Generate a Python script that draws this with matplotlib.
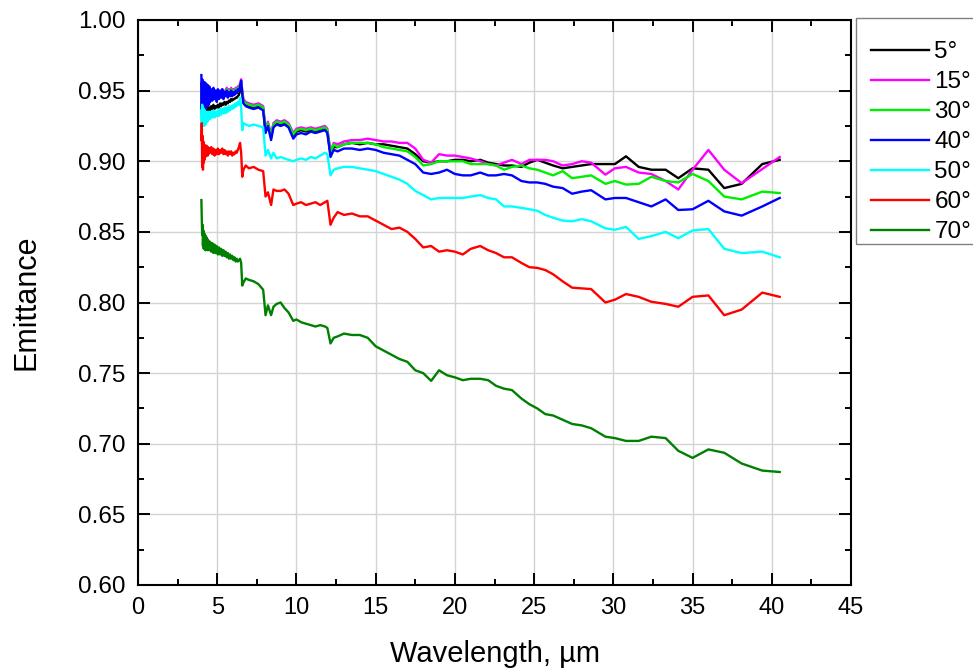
import matplotlib
matplotlib.use("Agg")
import matplotlib.pyplot as plt
from matplotlib.ticker import MultipleLocator
from matplotlib.patches import Rectangle

plt.rcParams['font.family'] = ['Liberation Sans', 'DejaVu Sans']

# ---------------- data ----------------
wavelength = [
    4.000, 4.025, 4.050, 4.075, 4.100, 4.125, 4.150, 4.175, 4.200, 4.225, 4.250, 4.275, 4.300, 4.325,
    4.350, 4.375, 4.400, 4.425, 4.450, 4.475, 4.500,
    4.55, 4.62, 4.69, 4.76, 4.83, 4.90, 4.97, 5.04, 5.11, 5.18, 5.25, 5.32, 5.39, 5.46, 5.53, 5.60,
    5.67, 5.74, 5.81, 5.88, 5.95, 6.02, 6.09, 6.16, 6.23, 6.30, 6.37, 6.44, 6.51, 6.58, 6.65,
    6.8, 7.0, 7.3, 7.6, 7.9, 8.05, 8.2, 8.4, 8.55, 8.75, 9.0, 9.25, 9.5, 9.8, 10.0, 10.3, 10.6, 10.9,
    11.2, 11.5, 11.8, 11.95, 12.15, 12.35,
    12.6, 13.0, 13.5, 14.0, 14.5, 15.0, 15.5, 16.0, 16.5, 17.0, 17.5, 18.0, 18.5, 19.0, 19.5, 20.0,
    20.5, 21.0, 21.6, 22.1, 22.6, 23.1, 23.6, 24.2, 24.7, 25.2, 25.7, 26.2, 26.8, 27.4,
    28.0, 28.6, 29.5, 30.1, 30.8, 31.6, 32.4, 33.3, 34.1, 35.0, 36.0, 37.0, 38.1, 39.4, 40.5,
]

e5 = [
    0.955, 0.934, 0.950, 0.932, 0.947, 0.935, 0.944, 0.933, 0.943, 0.935, 0.941, 0.934, 0.940, 0.936,
    0.939, 0.935, 0.939, 0.936, 0.938, 0.937, 0.938,
    0.936, 0.939, 0.937, 0.940, 0.937, 0.939, 0.938, 0.940, 0.938, 0.941, 0.939, 0.941, 0.940, 0.942, 0.940, 0.942,
    0.941, 0.943, 0.942, 0.944, 0.943, 0.944, 0.944, 0.945, 0.945, 0.946, 0.947, 0.950, 0.954, 0.948, 0.942,
    0.940, 0.939, 0.938, 0.939, 0.937, 0.921, 0.926, 0.917, 0.925, 0.927, 0.926, 0.927, 0.925, 0.918, 0.921, 0.922, 0.921, 0.922,
    0.921, 0.922, 0.923, 0.921, 0.905, 0.910,
    0.910, 0.912, 0.913, 0.912, 0.913, 0.912, 0.912, 0.911, 0.910, 0.909, 0.905, 0.900, 0.899, 0.900, 0.900, 0.901,
    0.901, 0.900, 0.901, 0.899, 0.898, 0.897, 0.897, 0.896, 0.899, 0.901, 0.899, 0.897, 0.895, 0.896,
    0.897, 0.898, 0.898, 0.898, 0.9035, 0.896, 0.894, 0.894, 0.888, 0.895, 0.894, 0.881, 0.884, 0.898, 0.901,
]

e15 = [
    0.952, 0.934, 0.950, 0.936, 0.949, 0.935, 0.948, 0.938, 0.947, 0.937, 0.948, 0.939, 0.946, 0.940,
    0.947, 0.941, 0.946, 0.942, 0.947, 0.942, 0.946,
    0.943, 0.948, 0.944, 0.949, 0.945, 0.950, 0.945, 0.949, 0.946, 0.950, 0.947, 0.951, 0.947, 0.950, 0.948, 0.952,
    0.948, 0.951, 0.949, 0.952, 0.949, 0.951, 0.950, 0.952, 0.951, 0.953, 0.953, 0.955, 0.958, 0.950, 0.944,
    0.942, 0.941, 0.940, 0.941, 0.939, 0.923, 0.928, 0.919, 0.927, 0.929, 0.928, 0.929, 0.927, 0.920, 0.923, 0.924, 0.923, 0.924,
    0.923, 0.924, 0.925, 0.923, 0.907, 0.913,
    0.912, 0.914, 0.915, 0.915, 0.916, 0.915, 0.914, 0.914, 0.913, 0.913, 0.909, 0.901, 0.899, 0.905, 0.904, 0.904,
    0.903, 0.902, 0.900, 0.898, 0.897, 0.899, 0.901, 0.898, 0.901, 0.901, 0.901, 0.900, 0.897, 0.898,
    0.900, 0.899, 0.8905, 0.895, 0.896, 0.892, 0.891, 0.886, 0.880, 0.894, 0.908, 0.894, 0.8845, 0.8945, 0.903,
]

e30 = [
    0.950, 0.933, 0.948, 0.935, 0.947, 0.936, 0.946, 0.937, 0.946, 0.938, 0.945, 0.938, 0.946, 0.939,
    0.945, 0.940, 0.946, 0.941, 0.945, 0.941, 0.946,
    0.942, 0.947, 0.943, 0.948, 0.944, 0.949, 0.944, 0.948, 0.945, 0.949, 0.946, 0.950, 0.946, 0.949, 0.947, 0.951,
    0.947, 0.950, 0.948, 0.951, 0.948, 0.950, 0.949, 0.951, 0.950, 0.952, 0.952, 0.954, 0.956, 0.949, 0.943,
    0.941, 0.940, 0.939, 0.940, 0.938, 0.922, 0.927, 0.918, 0.926, 0.928, 0.927, 0.928, 0.926, 0.919, 0.922, 0.923, 0.922, 0.923,
    0.922, 0.923, 0.924, 0.922, 0.906, 0.912,
    0.910, 0.912, 0.913, 0.913, 0.913, 0.912, 0.910, 0.909, 0.908, 0.907, 0.903, 0.897, 0.898, 0.900, 0.900, 0.900,
    0.900, 0.898, 0.898, 0.898, 0.897, 0.894, 0.896, 0.897, 0.895, 0.894, 0.892, 0.890, 0.893, 0.888,
    0.889, 0.890, 0.884, 0.886, 0.8835, 0.884, 0.889, 0.886, 0.885, 0.891, 0.886, 0.875, 0.873, 0.8785, 0.8775,
]

e40 = [
    0.961, 0.936, 0.958, 0.934, 0.957, 0.938, 0.955, 0.937, 0.956, 0.939, 0.954, 0.938, 0.955, 0.940,
    0.953, 0.939, 0.954, 0.941, 0.952, 0.940, 0.953,
    0.942, 0.951, 0.943, 0.952, 0.944, 0.950, 0.942, 0.951, 0.944, 0.950, 0.945, 0.951, 0.944, 0.949, 0.946, 0.950,
    0.945, 0.949, 0.946, 0.950, 0.946, 0.949, 0.947, 0.950, 0.948, 0.951, 0.950, 0.953, 0.957, 0.948, 0.941,
    0.939, 0.938, 0.937, 0.938, 0.936, 0.920, 0.925, 0.915, 0.924, 0.926, 0.925, 0.926, 0.924, 0.916, 0.919, 0.920, 0.919, 0.921,
    0.920, 0.921, 0.922, 0.920, 0.903, 0.908,
    0.907, 0.909, 0.909, 0.908, 0.909, 0.908, 0.906, 0.905, 0.904, 0.901, 0.898, 0.892, 0.891, 0.892, 0.894, 0.891,
    0.890, 0.890, 0.892, 0.890, 0.890, 0.891, 0.890, 0.886, 0.885, 0.885, 0.884, 0.882, 0.881, 0.877,
    0.8785, 0.8795, 0.873, 0.874, 0.874, 0.871, 0.868, 0.873, 0.8655, 0.866, 0.872, 0.8645, 0.8615, 0.868, 0.874,
]

e50 = [
    0.936, 0.924, 0.940, 0.925, 0.938, 0.926, 0.937, 0.925, 0.936, 0.927, 0.935, 0.926, 0.935, 0.928,
    0.934, 0.928, 0.935, 0.929, 0.934, 0.930, 0.935,
    0.930, 0.935, 0.931, 0.936, 0.931, 0.935, 0.932, 0.936, 0.932, 0.937, 0.933, 0.937, 0.934, 0.938, 0.934, 0.938,
    0.935, 0.939, 0.936, 0.939, 0.937, 0.940, 0.938, 0.941, 0.939, 0.942, 0.940, 0.945, 0.938, 0.922, 0.927,
    0.926, 0.925, 0.926, 0.925, 0.924, 0.904, 0.908, 0.902, 0.906, 0.902, 0.903, 0.902, 0.901, 0.900, 0.901, 0.902, 0.901, 0.903,
    0.902, 0.904, 0.906, 0.905, 0.890, 0.894,
    0.895, 0.896, 0.896, 0.895, 0.894, 0.893, 0.891, 0.889, 0.887, 0.884, 0.879, 0.876, 0.873, 0.874, 0.874, 0.874,
    0.874, 0.875, 0.876, 0.874, 0.873, 0.868, 0.868, 0.867, 0.866, 0.865, 0.862, 0.860, 0.858, 0.8575,
    0.859, 0.8575, 0.8525, 0.8515, 0.8535, 0.845, 0.847, 0.850, 0.8455, 0.851, 0.852, 0.838, 0.835, 0.836, 0.832,
]

e60 = [
    0.915, 0.927, 0.896, 0.918, 0.894, 0.914, 0.899, 0.912, 0.901, 0.911, 0.903, 0.910, 0.904, 0.911,
    0.905, 0.909, 0.904, 0.910, 0.905, 0.909, 0.906,
    0.906, 0.910, 0.905, 0.909, 0.904, 0.908, 0.905, 0.909, 0.905, 0.908, 0.906, 0.909, 0.905, 0.908, 0.905, 0.907,
    0.904, 0.907, 0.905, 0.907, 0.904, 0.906, 0.905, 0.907, 0.906, 0.908, 0.910, 0.913, 0.906, 0.889, 0.894,
    0.897, 0.895, 0.896, 0.894, 0.893, 0.875, 0.878, 0.869, 0.880, 0.879, 0.879, 0.880, 0.877, 0.869, 0.870, 0.871, 0.869, 0.870,
    0.871, 0.869, 0.871, 0.872, 0.855, 0.860,
    0.864, 0.862, 0.863, 0.861, 0.861, 0.858, 0.855, 0.852, 0.853, 0.850, 0.845, 0.839, 0.840, 0.836, 0.837, 0.836,
    0.834, 0.838, 0.840, 0.837, 0.835, 0.832, 0.832, 0.828, 0.825, 0.8245, 0.823, 0.820, 0.815, 0.8105,
    0.810, 0.8095, 0.800, 0.802, 0.806, 0.804, 0.8005, 0.799, 0.797, 0.804, 0.805, 0.791, 0.795, 0.807, 0.804,
]

e70 = [
    0.8725, 0.860, 0.848, 0.855, 0.840, 0.851, 0.838, 0.849, 0.839, 0.848, 0.837, 0.847, 0.839, 0.846,
    0.838, 0.845, 0.837, 0.844, 0.838, 0.843, 0.837,
    0.843, 0.836, 0.842, 0.835, 0.841, 0.835, 0.840, 0.834, 0.839, 0.834, 0.838, 0.833, 0.837, 0.833, 0.836, 0.832,
    0.835, 0.831, 0.834, 0.831, 0.833, 0.830, 0.832, 0.829, 0.831, 0.829, 0.830, 0.831, 0.828, 0.812, 0.814,
    0.817, 0.816, 0.815, 0.813, 0.809, 0.791, 0.798, 0.791, 0.797, 0.799, 0.800, 0.796, 0.793, 0.787, 0.788, 0.786, 0.785, 0.784,
    0.783, 0.784, 0.783, 0.782, 0.771, 0.775,
    0.776, 0.778, 0.777, 0.777, 0.775, 0.769, 0.766, 0.763, 0.760, 0.758, 0.752, 0.750, 0.7445, 0.752, 0.7485, 0.747,
    0.745, 0.746, 0.746, 0.745, 0.741, 0.739, 0.738, 0.732, 0.728, 0.725, 0.721, 0.720, 0.717, 0.714,
    0.713, 0.711, 0.705, 0.704, 0.702, 0.702, 0.705, 0.704, 0.695, 0.690, 0.696, 0.6936, 0.686, 0.681, 0.680,
]

labels = ["5°", "15°", "30°", "40°", "50°", "60°", "70°"]
colors = ["#000000", "#FF00FF", "#00EE00", "#0000FF", "#00FFFF", "#FF0000", "#008000"]
series = [e5, e15, e30, e40, e50, e60, e70]

# ---------------- figure ----------------
W, H = 973, 671
fig = plt.figure(figsize=(W / 100, H / 100), dpi=100)
ax = fig.add_axes([138 / W, (H - 585) / H, (851 - 138) / W, (585 - 20) / H])

lines = []
for ys, lab, c in zip(series, labels, colors):
    ln, = ax.plot(wavelength, ys, color=c, lw=1.7, label=lab, solid_joinstyle='round')
    lines.append(ln)

ax.set_xlim(0, 45)
ax.set_ylim(0.60, 1.00)
ax.xaxis.set_major_locator(MultipleLocator(5))
ax.xaxis.set_minor_locator(MultipleLocator(2.5))
ax.yaxis.set_major_locator(MultipleLocator(0.05))
ax.yaxis.set_minor_locator(MultipleLocator(0.025))
ax.yaxis.set_major_formatter(plt.FormatStrFormatter('%.2f'))

ax.grid(True, which='major', color='#d4d4d4', lw=1.0)
ax.set_axisbelow(True)

ax.tick_params(which='both', direction='in', top=True, right=True, width=1.4, colors='black')
ax.tick_params(which='major', length=8.5)
ax.tick_params(which='minor', length=4.3)
ax.tick_params(axis='y', which='major', labelsize=17.5, pad=9)
ax.tick_params(axis='x', which='major', labelsize=17, pad=9)
for s in ax.spines.values():
    s.set_linewidth(1.5)

ax.set_xlabel("Wavelength, µm", fontsize=21, labelpad=15)
ax.set_ylabel("Emittance", fontsize=22, labelpad=26)

leg = fig.legend(handles=lines, loc='upper left', bbox_to_anchor=(856.5 / W, 1 - 26.5 / H),
                 bbox_transform=fig.transFigure, fontsize=17.5, frameon=False,
                 handlelength=2.4, handletextpad=0.2, labelspacing=0.33, borderpad=0.6,
                 borderaxespad=0)
for l in leg.get_lines():
    l.set_linewidth(1.7)

fig.patches.append(Rectangle((856 / W, 1 - 244 / H), 125 / W, (244 - 18) / H,
                             transform=fig.transFigure, fill=False, edgecolor='#808080',
                             linewidth=1.0, figure=fig))

fig.savefig("out.png", dpi=100)
